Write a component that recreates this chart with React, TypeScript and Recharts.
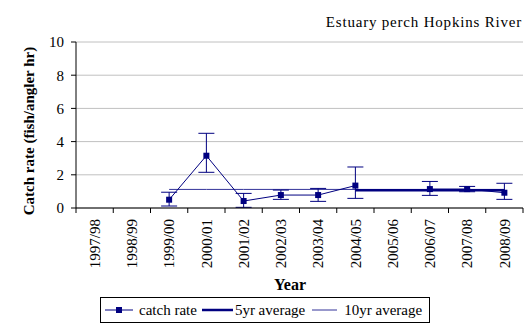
import { LineChart, Line, XAxis, YAxis, CartesianGrid, ErrorBar } from 'recharts'

const years = [
  '1997/98', '1998/99', '1999/00', '2000/01', '2001/02', '2002/03',
  '2003/04', '2004/05', '2005/06', '2006/07', '2007/08', '2008/09',
]
const catchRate = [null, null, 0.5, 3.15, 0.42, 0.78, 0.78, 1.35, null, 1.14, 1.14, 0.92]
// error bar extents below / above each point
const errLow = [null, null, 0.38, 1.0, 0.38, 0.26, 0.38, 0.77, null, 0.38, 0.16, 0.4]
const errHigh = [null, null, 0.45, 1.35, 0.46, 0.3, 0.4, 1.12, null, 0.46, 0.16, 0.57]
const fiveYrAvg = [null, null, null, null, null, null, null, 1.07, 1.07, 1.07, 1.07, 1.07]
const tenYrAvg = [null, null, 1.12, 1.12, 1.12, 1.12, 1.12, 1.12, 1.12, 1.12, 1.12, 1.12]
const yTicks = [0, 2, 4, 6, 8, 10]

const data = years.map((year, i) => ({
  year,
  catchRate: catchRate[i],
  err: catchRate[i] == null ? null : [errLow[i], errHigh[i]],
  fiveYr: fiveYrAvg[i],
  tenYr: tenYrAvg[i],
}))

const FONT = '"Liberation Serif", "Times New Roman", serif'
const NAVY = '#000080'
const TEN_BLUE = '#333399'

const W = 531
const H = 330
const LEFT = 76
const RIGHT = 8
const TOP = 42
const X_AXIS_H = 122
const HALF_BAND = (W - LEFT - RIGHT) / years.length / 2

function YearTick(props: any) {
  const { x, y, payload, index } = props
  return (
    <g>
      <line x1={x - HALF_BAND} y1={y} x2={x - HALF_BAND} y2={y + 5} stroke="#000" />
      {index === years.length - 1 && (
        <line x1={x + HALF_BAND} y1={y} x2={x + HALF_BAND} y2={y + 5} stroke="#000" />
      )}
      <text
        x={x}
        y={y + 11}
        transform={`rotate(-90, ${x}, ${y + 11})`}
        textAnchor="end"
        dy="0.35em"
        fill="#000"
        fontFamily={FONT}
        fontSize={15}
      >
        {payload.value}
      </text>
    </g>
  )
}

function SquareDot(props: any) {
  const { cx, cy, value, index } = props
  if (value == null || cx == null || cy == null) return <g key={`d-${index}`} />
  return <rect key={`d-${index}`} x={cx - 3} y={cy - 3} width={6} height={6} fill={NAVY} />
}

function LegendBox() {
  const text = { fontFamily: FONT, fontSize: 15, color: '#000', whiteSpace: 'nowrap' as const }
  return (
    <div
      style={{
        position: 'absolute',
        left: 100,
        top: 297,
        width: 330,
        height: 26,
        boxSizing: 'border-box',
        border: '1px solid #000',
        background: '#fff',
        display: 'flex',
        alignItems: 'center',
        paddingLeft: 4,
      }}
    >
      <svg width={28} height={10} style={{ marginRight: 6 }}>
        <line x1={0} y1={5} x2={28} y2={5} stroke={NAVY} strokeWidth={1} />
        <rect x={11} y={2} width={6} height={6} fill={NAVY} />
      </svg>
      <span style={text}>catch rate</span>
      <svg width={31} height={10} style={{ marginLeft: 5, marginRight: 2 }}>
        <line x1={0} y1={5} x2={31} y2={5} stroke={NAVY} strokeWidth={2.5} />
      </svg>
      <span style={text}>5yr average</span>
      <svg width={25} height={10} style={{ marginLeft: 7, marginRight: 7 }}>
        <line x1={0} y1={5} x2={25} y2={5} stroke={TEN_BLUE} strokeWidth={1} />
      </svg>
      <span style={text}>10yr average</span>
    </div>
  )
}

export default function App() {
  return (
    <div style={{ position: 'absolute', left: 0, top: 0, width: W, height: H, background: '#fff' }}>
      <div
        style={{
          position: 'absolute',
          right: 9,
          top: 15,
          fontFamily: FONT,
          fontSize: 15,
          lineHeight: '15px',
          letterSpacing: '0.8px',
          color: '#000',
          whiteSpace: 'nowrap',
        }}
      >
        Estuary perch Hopkins River
      </div>
      <LineChart width={W} height={H} data={data} margin={{ top: TOP, right: RIGHT, left: 0, bottom: 0 }}>
        <CartesianGrid vertical={false} stroke="#c0c0c0" />
        <XAxis
          dataKey="year"
          scale="band"
          height={X_AXIS_H}
          tickLine={false}
          tickSize={0}
          tickMargin={0}
          interval={0}
          axisLine={{ stroke: '#000' }}
          tick={<YearTick />}
          label={{
            content: () => (
              <text x={290} y={290} textAnchor="middle" fontFamily={FONT} fontSize={16} fontWeight="bold" fill="#000">
                Year
              </text>
            ),
          }}
        />
        <YAxis
          width={LEFT}
          domain={[0, 10]}
          ticks={yTicks}
          tickSize={5}
          tickMargin={7}
          axisLine={{ stroke: '#000' }}
          tickLine={{ stroke: '#000' }}
          tick={{ fill: '#000', fontFamily: FONT, fontSize: 15 }}
          label={{
            content: () => (
              <text
                x={29}
                y={131}
                transform="rotate(-90, 29, 131)"
                textAnchor="middle"
                dy="0.35em"
                fontFamily={FONT}
                fontSize={15}
                fontWeight="bold"
                fill="#000"
              >
                Catch rate (fish/angler hr)
              </text>
            ),
          }}
        />
        <Line dataKey="tenYr" stroke={TEN_BLUE} strokeWidth={1} dot={false} isAnimationActive={false} />
        <Line dataKey="fiveYr" stroke={NAVY} strokeWidth={2.5} dot={false} isAnimationActive={false} />
        <Line
          dataKey="catchRate"
          stroke={NAVY}
          strokeWidth={1}
          dot={SquareDot}
          activeDot={false}
          isAnimationActive={false}
        >
          <ErrorBar dataKey="err" width={8} stroke={NAVY} strokeWidth={1} direction="y" isAnimationActive={false} />
        </Line>
      </LineChart>
      <LegendBox />
    </div>
  )
}
